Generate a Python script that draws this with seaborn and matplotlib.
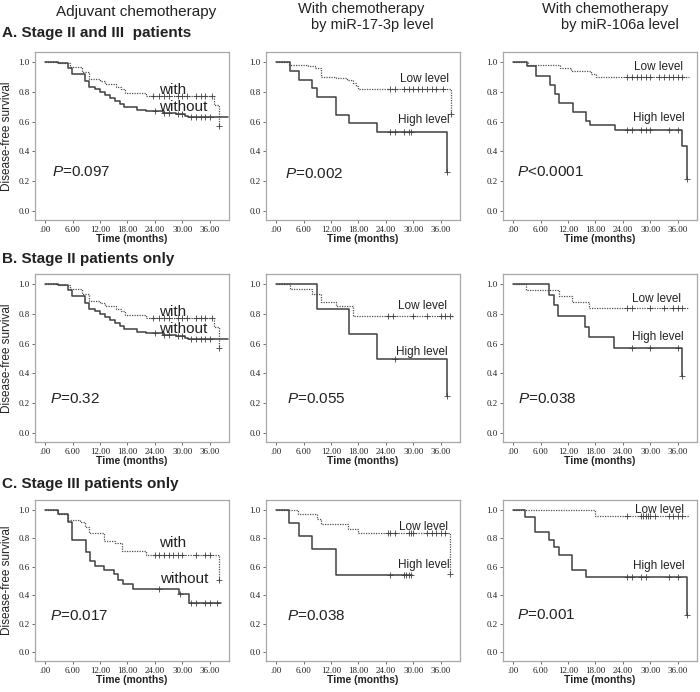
import numpy as np
import pandas as pd
import matplotlib
matplotlib.use("Agg")
import matplotlib.pyplot as plt
import seaborn as sns

# ---------------- data ----------------
# Panel A1 / B1 : adjuvant chemotherapy (with vs without)
a1_with_t = [0, 2.9, 5.5, 8, 9.7, 12, 13, 15.6, 16.7, 17.5, 22, 37, 38]
a1_with_s = [1.0, 0.99, 0.967, 0.933, 0.888, 0.875, 0.85, 0.835, 0.82, 0.79, 0.77, 0.71, 0.57]
a1_with_c = [23.5, 25, 26, 27, 29, 30, 31, 33, 34, 35, 36.5, 38]
a1_wo_t = [0, 2.9, 5, 5.8, 8.7, 9.7, 10.9, 12, 13, 14.1, 15.3, 16.4, 17.2, 20, 22, 25.8, 28.7, 30.5, 31.3, 40]
a1_wo_s = [1.0, 0.99, 0.96, 0.917, 0.87, 0.83, 0.82, 0.80, 0.78, 0.76, 0.74, 0.72, 0.70, 0.68, 0.67, 0.66, 0.65, 0.64, 0.63, 0.63]
a1_wo_c = [24, 26, 27, 29, 30, 32, 33, 34, 35, 36]

# Panel A2 : miR-17-3p
a2_low_t = [0, 2.9, 7, 8.4, 9.9, 13.2, 15.4, 16.8, 17.4, 18, 38.3]
a2_low_s = [1.0, 0.98, 0.97, 0.96, 0.90, 0.89, 0.88, 0.86, 0.84, 0.82, 0.65]
a2_low_c = [25, 26, 28, 29, 30, 31, 32, 33, 34, 35, 36.5, 38.3]
a2_high_t = [0, 3, 5, 7.9, 8.9, 13.2, 16, 22, 37.3]
a2_high_s = [1.0, 0.941, 0.882, 0.824, 0.765, 0.647, 0.588, 0.529, 0.265]
a2_high_c = [25, 26, 28, 29, 29.5, 37.3]

# Panel A3 : miR-106a
a3_low_t = [0, 3.3, 10.2, 12.7, 17, 18.2, 38.4]
a3_low_s = [1.0, 0.98, 0.96, 0.94, 0.92, 0.90, 0.90]
a3_low_c = [25, 26, 27, 28, 29, 30, 32, 33, 34, 35, 36, 37]
a3_high_t = [0, 3.1, 5.1, 8.1, 9.1, 10, 13.1, 15.9, 16.9, 22.2, 37, 38]
a3_high_s = [1.0, 0.97, 0.909, 0.848, 0.788, 0.727, 0.667, 0.606, 0.576, 0.545, 0.436, 0.218]
a3_high_c = [25, 26, 28, 29, 30, 34, 36, 38]

# Panel B2 : miR-17-3p, stage II
b2_low_t = [0, 3, 7.9, 9.9, 13, 16.8, 38.6]
b2_low_s = [1.0, 0.967, 0.935, 0.878, 0.85, 0.787, 0.787]
b2_low_c = [24.5, 25.5, 30, 33, 36, 37, 38]
b2_high_t = [0, 9, 15.9, 22.1, 37.3]
b2_high_s = [1.0, 0.833, 0.667, 0.5, 0.25]
b2_high_c = [26, 37.3]

# Panel B3 : miR-106a, stage II
b3_low_t = [0, 2.8, 10, 12.9, 16.7, 38.4]
b3_low_s = [1.0, 0.96, 0.92, 0.88, 0.84, 0.84]
b3_low_c = [25, 26, 30, 33, 35, 36, 37]
b3_high_t = [0, 7.9, 8.9, 9.8, 15.8, 16.7, 22, 37]
b3_high_s = [1.0, 0.929, 0.857, 0.786, 0.714, 0.643, 0.571, 0.381]
b3_high_c = [26, 30, 36, 37]

# Panel C1 : stage III, with vs without
c1_with_t = [0, 2.9, 5.1, 7.7, 8.7, 9.7, 12.9, 15.3, 16.8, 22.1, 38.1]
c1_with_s = [1.0, 0.972, 0.93, 0.91, 0.88, 0.833, 0.78, 0.765, 0.71, 0.68, 0.51]
c1_with_c = [24, 25, 26, 27, 28, 29, 30, 33, 35, 36, 38.1]
c1_wo_t = [0, 2.9, 5, 5.8, 9, 9.9, 10.9, 12.9, 15, 16, 17.1, 19.2, 29.2, 31.4, 38.5]
c1_wo_s = [1.0, 0.97, 0.91, 0.79, 0.70, 0.64, 0.605, 0.577, 0.547, 0.507, 0.477, 0.447, 0.407, 0.344, 0.344]
c1_wo_c = [25, 29.5, 32, 33, 35, 36, 37.5]

# Panel C2 : miR-17-3p, stage III
c2_low_t = [0, 4.75, 8.9, 9.9, 15.7, 17.9, 38]
c2_low_s = [1.0, 0.967, 0.934, 0.90, 0.867, 0.834, 0.552]
c2_low_c = [24.5, 25, 26, 29, 29.5, 30, 33, 34, 35, 36, 37, 38]
c2_high_t = [0, 2.9, 5, 7.9, 13, 29.6]
c2_high_s = [1.0, 0.909, 0.818, 0.727, 0.545, 0.545]
c2_high_c = [25, 28, 28.5, 29, 29.5]

# Panel C3 : miR-106a, stage III
c3_low_t = [0, 17.8, 38.4]
c3_low_s = [1.0, 0.952, 0.952]
c3_low_c = [25, 28, 28.5, 29, 29.5, 30, 31, 34, 35, 36, 37]
c3_high_t = [0, 2.7, 4.7, 7.9, 8.9, 10, 12.9, 15.9, 38]
c3_high_s = [1.0, 0.947, 0.842, 0.789, 0.737, 0.684, 0.579, 0.526, 0.263]
c3_high_c = [25, 26, 28, 29, 34, 36, 38]

p_values = [["0.097", "0.002", "<0.0001"],
            ["0.32", "0.055", "0.038"],
            ["0.017", "0.038", "0.001"]]
row_titles = ["A. Stage II and III  patients", "B. Stage II patients only", "C. Stage III patients only"]
x_ticks = [0, 6, 12, 18, 24, 30, 36]
x_ticklabels = [".00", "6.00", "12.00", "18.00", "24.00", "30.00", "36.00"]
y_ticks = [0.0, 0.2, 0.4, 0.6, 0.8, 1.0]

# ---------------- style ----------------
sns.set_style("ticks")
plt.rcParams["font.family"] = ["Liberation Sans", "DejaVu Sans"]
plt.rcParams["mathtext.fontset"] = "custom"
plt.rcParams["mathtext.it"] = "Liberation Sans:italic"
plt.rcParams["mathtext.rm"] = "Liberation Sans"

W, H = 700, 692
fig = plt.figure(figsize=(W / 100, H / 100), dpi=100)

col_left = [35, 266, 503]
col_w = 194
row_tb = [(52, 220), (274, 442), (500, 661)]

SOLID = "#404040"
DOT = "#505050"
TXT = "#222222"

def curve(ax, t, s, c, dotted):
    df = pd.DataFrame({"t": t, "s": s})
    sns.lineplot(data=df, x="t", y="s", ax=ax, estimator=None, sort=False,
                 drawstyle="steps-post", color=DOT if dotted else SOLID,
                 linestyle=(0, (1, 1)) if dotted else "-",
                 linewidth=0.9 if dotted else 1.1)
    tt = np.asarray(t)
    cy = [s[np.searchsorted(tt, v, side="right") - 1] for v in c]
    sns.scatterplot(x=c, y=cy, ax=ax, marker="+", s=14, color=SOLID,
                    linewidth=0.6, zorder=3)

panels = [
    [((a1_with_t, a1_with_s, a1_with_c), (a1_wo_t, a1_wo_s, a1_wo_c)),
     ((a2_low_t, a2_low_s, a2_low_c), (a2_high_t, a2_high_s, a2_high_c)),
     ((a3_low_t, a3_low_s, a3_low_c), (a3_high_t, a3_high_s, a3_high_c))],
    [((a1_with_t, a1_with_s, a1_with_c), (a1_wo_t, a1_wo_s, a1_wo_c)),
     ((b2_low_t, b2_low_s, b2_low_c), (b2_high_t, b2_high_s, b2_high_c)),
     ((b3_low_t, b3_low_s, b3_low_c), (b3_high_t, b3_high_s, b3_high_c))],
    [((c1_with_t, c1_with_s, c1_with_c), (c1_wo_t, c1_wo_s, c1_wo_c)),
     ((c2_low_t, c2_low_s, c2_low_c), (c2_high_t, c2_high_s, c2_high_c)),
     ((c3_low_t, c3_low_s, c3_low_c), (c3_high_t, c3_high_s, c3_high_c))],
]

# label positions (data coords): (top label x, y, bottom label x, y, p x, p y)
label_pos = [
    [(24.9, 0.815, 24.9, 0.70, 1.45, 0.26), (27.0, 0.884, 26.6, 0.61, 2.0, 0.25), (26.5, 0.967, 26.2, 0.627, 0.9, 0.26)],
    [(24.9, 0.81, 24.9, 0.70, 1.0, 0.226), (26.7, 0.85, 26.3, 0.544, 2.3, 0.227), (26.0, 0.90, 26.0, 0.647, 1.1, 0.229)],
    [(25.0, 0.767, 25.2, 0.516, 1.0, 0.256), (26.9, 0.879, 26.7, 0.614, 2.3, 0.256), (26.7, 1.0, 26.3, 0.602, 0.9, 0.264)],
]

for r in range(3):
    top, bot = row_tb[r]
    for ci in range(3):
        ax = fig.add_axes([col_left[ci] / W, 1 - bot / H, col_w / W, (bot - top) / H])
        (up, lo) = panels[r][ci]
        curve(ax, *up, dotted=True)
        curve(ax, *lo, dotted=False)
        ax.set_xlim(-2.2, 40.2)
        ax.set_ylim(-0.06, 1.067)
        ax.set_xticks(x_ticks)
        ax.set_xticklabels(x_ticklabels)
        ax.set_yticks(y_ticks)
        ax.set_yticklabels([f"{v:.1f}" for v in y_ticks])
        for lab in ax.get_xticklabels() + ax.get_yticklabels():
            lab.set_family("Liberation Serif")
            lab.set_fontsize(6.5)
            lab.set_color(TXT)
        ax.tick_params(length=2.5, width=0.6, color="#555555", pad=1.5)
        for sp in ax.spines.values():
            sp.set_color("#a8a8a8")
            sp.set_linewidth(0.9)
            sp.set_visible(True)
        ax.set_xlabel("Time (months)", fontsize=7.5, fontweight="bold", color=TXT, labelpad=0.5)
        if ci == 0:
            ax.set_ylabel("Disease-free survival", fontsize=8.5, color=TXT, labelpad=4)
        else:
            ax.set_ylabel("")
        lp = label_pos[r][ci]
        if ci == 0:
            t1, t2, fs = "with", "without", 11
        else:
            t1, t2, fs = "Low level", "High level", 8.5
        ax.text(lp[0], lp[1], t1, fontsize=fs, color=TXT, ha="left", va="center")
        ax.text(lp[2], lp[3], t2, fontsize=fs, color=TXT, ha="left", va="center")
        pv = p_values[r][ci]
        ptxt = r"$\mathit{P}$" + (pv if pv.startswith("<") else "=" + pv)
        ax.text(lp[4], lp[5], ptxt, fontsize=11, color=TXT, ha="left", va="center")

def ftext(x, y, s, **kw):
    fig.text(x / W, 1 - y / H, s, color=TXT, **kw)

ftext(136, 12, "Adjuvant chemotherapy", fontsize=11, ha="center", va="center")
ftext(361, 9, "With chemotherapy", fontsize=10.5, ha="center", va="center")
ftext(372, 25.5, "by miR-17-3p level", fontsize=10.5, ha="center", va="center")
ftext(605, 9, "With chemotherapy", fontsize=10.5, ha="center", va="center")
ftext(620, 25.5, "by miR-106a level", fontsize=10.5, ha="center", va="center")
for y, s in zip([33, 259, 484], row_titles):
    ftext(2, y, s, fontsize=11, fontweight="bold", ha="left", va="center")

fig.savefig("out.png", dpi=100)
